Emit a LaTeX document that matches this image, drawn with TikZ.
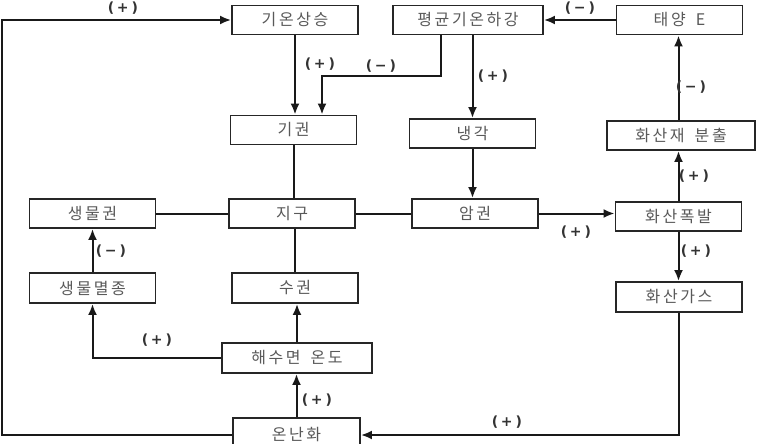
\documentclass[tikz,border=0pt]{standalone}
\usepackage{fontspec}
\usepackage{tikz}
\usetikzlibrary{arrows.meta}
\newfontfamily\krfont{Noto Sans CJK KR}[LetterSpace=16]
\newfontfamily\signfont{DejaVu Sans}
\newcommand{\sg}[1]{(\kern2.5pt#1\kern3pt)}

\tikzset{
  box/.style={draw=black!85, line width=1.9pt, fill=white, minimum width=126pt,
    minimum height=29pt, inner sep=0pt, text=black!65,
    font=\krfont\fontsize{16}{18}\selectfont},
  arr/.style={-{Latex[length=11pt,width=9pt]}, line width=2pt, black!90},
  link/.style={line width=2pt, black!90},
  sign/.style={font=\signfont\bfseries\fontsize{14}{15}\selectfont, text=black!80, inner sep=0pt},
}

\begin{document}
\begin{tikzpicture}[x=1pt,y=-1pt]
  \fill[white] (0,0) rectangle (757,444);
  \useasboundingbox (0,0) rectangle (757,444);
  % boxes
  \node[box] (gion) at (295,20) {기온상승};
  \node[box, minimum width=150pt] (pyeong) at (468,20) {평균기온하강};
  \node[box] (taeyang) at (679.5,20) {태양\hspace{4pt} E};
  \node[box] (giwon) at (293.5,130) {기권};
  \node[box] (naeng) at (472.5,133.5) {냉각};
  \node[box, minimum width=148pt] (jae) at (681,135.5) {화산재\hspace{4pt} 분출};
  \node[box] (saeng) at (92.5,213.5) {생물권};
  \node[box] (jigu) at (292,213.5) {지구};
  \node[box] (amgwon) at (475,213.5) {암권};
  \node[box] (pokbal) at (678.5,216.5) {화산폭발};
  \node[box, minimum height=30pt] (myeol) at (92.5,288) {생물멸종};
  \node[box, minimum height=30pt] (sugwon) at (295,288) {수권};
  \node[box, minimum height=30pt] (gas) at (679,297) {화산가스};
  \node[box, minimum width=150pt, minimum height=30pt] (haesu) at (297,358) {해수면\hspace{4pt} 온도};
  \node[box, minimum width=127pt, minimum height=34pt] (onnan) at (296.5,435) {온난화};

  % connectors
  \coordinate (lt) at (2,20);
  \coordinate (lb) at (2,435);
  \coordinate (pk) at (441,76);
  \draw[arr] (onnan.west) -- (lb) -- (lt) -- (gion.west);
  \draw[arr] (gion.south) -- (gion.south |- giwon.north);
  \draw[arr] (pyeong.south -| pk) -- (pk) -| ([xshift=28.5pt]giwon.north);
  \draw[arr] (pyeong.south -| naeng) -- (naeng.north);
  \draw[arr] (taeyang.west) -- (pyeong.east);
  \draw[arr] (jae.north -| pokbal) -- (pokbal |- taeyang.south);
  \draw[arr] (pokbal.north) -- (pokbal.north |- jae.south);
  \draw[arr] (naeng.south) -- (naeng.south |- amgwon.north);
  \draw[link] (giwon.south) -- (giwon.south |- jigu.north);
  \draw[link] (saeng.east) -- (jigu.west);
  \draw[link] (jigu.east) -- (amgwon.west);
  \draw[arr] (amgwon.east) -- (amgwon.east -| pokbal.west);
  \draw[arr] (pokbal.south) -- (pokbal.south |- gas.north);
  \draw[arr] (myeol.north) -- (saeng.south);
  \draw[link] (jigu.south -| sugwon) -- (sugwon.north);
  \draw[arr] (haesu.north) -- (haesu.north |- sugwon.south);
  \draw[arr] (haesu.west) -| (myeol.south);
  \draw[arr] (onnan.north) -- (onnan.north |- haesu.south);
  \draw[arr] (gas.south) |- (onnan.east);

  % signs
  \node[sign] (s1) at (123,8) {\sg{+}};
  \node[sign] (s2) at (320,64) {\sg{+}};
  \node[sign] (s3) at (381,66) {\sg{−}};
  \node[sign] (s4) at (493,76) {\sg{+}};
  \node[sign] (s5) at (580,8) {\sg{−}};
  \node[sign] (s6) at (691,87) {\sg{−}};
  \node[sign] (s7) at (694,176) {\sg{+}};
  \node[sign] (s8) at (576,232) {\sg{+}};
  \node[sign] (s9) at (696,251) {\sg{+}};
  \node[sign] (s10) at (111,251) {\sg{−}};
  \node[sign] (s11) at (157,340) {\sg{+}};
  \node[sign] (s12) at (317,400) {\sg{+}};
  \node[sign] (s13) at (507,422) {\sg{+}};
\end{tikzpicture}
\end{document}
